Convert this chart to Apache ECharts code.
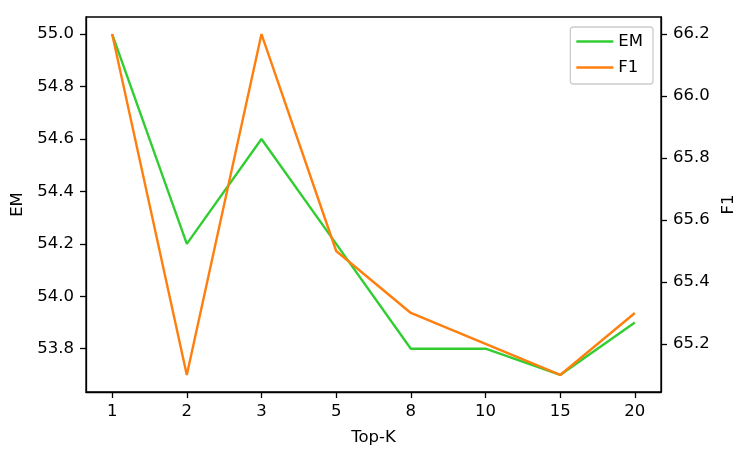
<!DOCTYPE html>
<html><head><meta charset="utf-8">
<script src="https://cdn.jsdelivr.net/npm/echarts@6/dist/echarts.min.js"></script>
<style>html,body{margin:0;padding:0;background:#fff}#c{width:748px;height:457px}</style>
</head><body><div id="c"></div>
<script>
const categories = ['1','2','3','5','8','10','15','20'];
const emValues = [55.0, 54.2, 54.6, 54.2, 53.8, 53.8, 53.7, 53.9];
const f1Values = [66.2, 65.1, 66.2, 65.5, 65.3, 65.2, 65.1, 65.3];
const emTicks = [53.8, 54.0, 54.2, 54.4, 54.6, 54.8, 55.0];
const f1Ticks = [65.2, 65.4, 65.6, 65.8, 66.0, 66.2];

const font = 'DejaVu Sans';
const fs = 16.5;
const idx = categories.map((c, i) => i);
const emMin = Math.min(...emValues), emMax = Math.max(...emValues);
const f1Min = Math.min(...f1Values), f1Max = Math.max(...f1Values);
const m = 0.05;
const chart = echarts.init(document.getElementById('c'));
const tickStyle = {show: true, inside: false, length: 6, lineStyle: {color: '#000', width: 1.3}};
const yCommon = {
  type: 'value',
  nameLocation: 'middle', nameRotate: 90,
  nameTextStyle: {fontFamily: font, fontSize: fs, color: '#000'},
  axisLine: {show: true, onZero: false, lineStyle: {color: '#000', width: 1.3}},
  axisLabel: {fontFamily: font, fontSize: fs, color: '#000', margin: 12, formatter: v => v.toFixed(1)},
  splitLine: {show: false}
};
chart.setOption({
  animation: false,
  grid: {left: 86, right: 87, top: 17, bottom: 65, show: true, borderColor: '#000', borderWidth: 1.3},
  legend: {
    orient: 'vertical', right: 95, top: 27,
    data: ['EM', 'F1'],
    icon: 'rect',
    itemWidth: 37, itemHeight: 2.4, itemGap: 9,
    padding: [6, 10, 8, 6],
    borderColor: '#ccc', borderWidth: 1.3, borderRadius: 3,
    textStyle: {fontFamily: font, fontSize: fs, color: '#000'}
  },
  xAxis: {
    type: 'value', min: -0.35, max: categories.length - 1 + 0.35,
    name: 'Top-K', nameLocation: 'middle', nameGap: 37,
    nameTextStyle: {fontFamily: font, fontSize: fs, color: '#000'},
    axisLine: {show: true, onZero: false, lineStyle: {color: '#000', width: 1.3}},
    axisTick: Object.assign({}, tickStyle, {customValues: idx}),
    axisLabel: {fontFamily: font, fontSize: fs, color: '#000', margin: 11, customValues: idx,
      formatter: v => categories[Math.round(v)]},
    splitLine: {show: false}
  },
  yAxis: [
    Object.assign({}, yCommon, {
      name: 'EM', position: 'left', nameGap: 57,
      min: emMin - m * (emMax - emMin), max: emMax + m * (emMax - emMin),
      axisTick: Object.assign({}, tickStyle, {customValues: emTicks}),
      axisLabel: Object.assign({}, yCommon.axisLabel, {customValues: emTicks})
    }),
    Object.assign({}, yCommon, {
      name: 'F1', position: 'right', nameGap: 58,
      min: f1Min - m * (f1Max - f1Min), max: f1Max + m * (f1Max - f1Min),
      axisTick: Object.assign({}, tickStyle, {customValues: f1Ticks}),
      axisLabel: Object.assign({}, yCommon.axisLabel, {customValues: f1Ticks})
    })
  ],
  series: [
    {name: 'EM', type: 'line', yAxisIndex: 0, symbol: 'none', color: '#32cd32',
      lineStyle: {width: 2.4, color: '#32cd32'}, data: emValues.map((v, i) => [i, v])},
    {name: 'F1', type: 'line', yAxisIndex: 1, symbol: 'none', color: '#ff7f0e',
      lineStyle: {width: 2.4, color: '#ff7f0e'}, data: f1Values.map((v, i) => [i, v])}
  ]
});
</script></body></html>
